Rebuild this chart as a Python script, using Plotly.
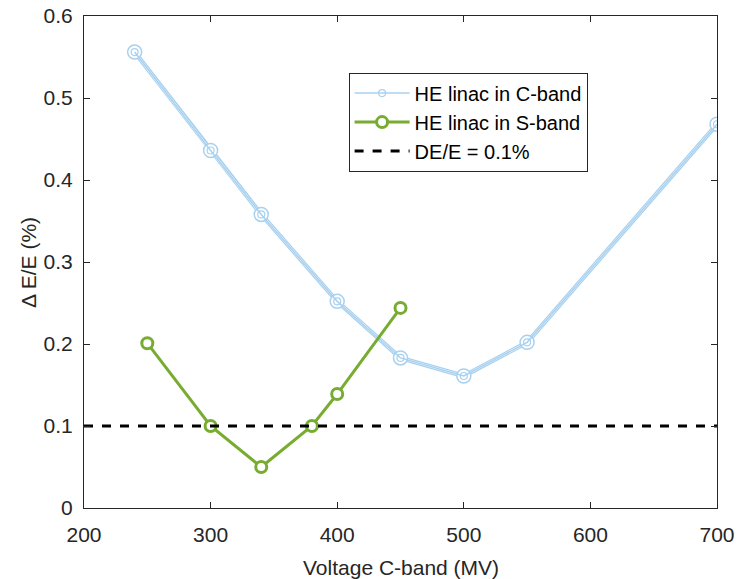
import plotly.graph_objects as go

# Data
c_voltage = [240, 300, 340, 400, 450, 500, 550, 700]
c_dee = [0.556, 0.436, 0.358, 0.252, 0.183, 0.161, 0.202, 0.468]
s_voltage = [250, 300, 340, 380, 400, 450]
s_dee = [0.201, 0.100, 0.050, 0.100, 0.139, 0.244]
ref_x = [200, 700]
ref_y = [0.1, 0.1]
x_ticks = [200, 300, 400, 500, 600, 700]
y_ticks = [0, 0.1, 0.2, 0.3, 0.4, 0.5, 0.6]
y_ticklabels = ["0", "0.1", "0.2", "0.3", "0.4", "0.5", "0.6"]

c_name = "HE linac in C-band"
s_name = "HE linac in S-band"
ref_name = "DE/E = 0.1%"
x_title = "Voltage C-band (MV)"
y_title = "Δ E/E (%)"

light_blue = "#a8d1ef"
green = "#77ac30"
axis_col = "#262626"
font_fam = "Liberation Sans, Arial, sans-serif"

fig = go.Figure()

# C-band: double-line look (thick light blue with white core)
fig.add_trace(go.Scatter(x=c_voltage, y=c_dee, mode="lines",
                         line=dict(color=light_blue, width=4.5),
                         showlegend=False, hoverinfo="skip"))
fig.add_trace(go.Scatter(x=c_voltage, y=c_dee, mode="lines",
                         line=dict(color="white", width=2),
                         showlegend=False, hoverinfo="skip"))
fig.add_trace(go.Scatter(x=c_voltage, y=c_dee, mode="markers",
                         marker=dict(symbol="circle", size=14, color="white",
                                     line=dict(color=light_blue, width=1.5)),
                         showlegend=False, hoverinfo="skip"))
fig.add_trace(go.Scatter(x=c_voltage, y=c_dee, mode="lines+markers", name=c_name,
                         line=dict(color=light_blue, width=1.5),
                         marker=dict(symbol="circle-open", size=7, color=light_blue,
                                     line=dict(width=1.2))))

fig.add_trace(go.Scatter(x=s_voltage, y=s_dee, mode="lines+markers", name=s_name,
                         line=dict(color=green, width=3),
                         marker=dict(symbol="circle", size=11, color="white",
                                     line=dict(color=green, width=3))))

fig.add_trace(go.Scatter(x=ref_x, y=ref_y, mode="lines", name=ref_name,
                         line=dict(color="black", width=3, dash="dash")))

axis_common = dict(showgrid=False, zeroline=False, showline=True, linecolor=axis_col,
                   linewidth=1, mirror="ticks", ticks="inside", ticklen=6,
                   tickcolor=axis_col, tickwidth=1, automargin=False,
                   tickfont=dict(family=font_fam, size=21, color=axis_col))

fig.update_xaxes(range=[200, 700], tickvals=x_ticks, ticklabelstandoff=8, **axis_common)
fig.update_yaxes(range=[0, 0.6], tickvals=y_ticks, ticktext=y_ticklabels,
                 ticklabelstandoff=6, **axis_common)

fig.add_annotation(text=x_title, xref="paper", yref="paper", x=0.5, y=-0.12,
                   xanchor="center", yanchor="middle", showarrow=False,
                   font=dict(family=font_fam, size=21, color=axis_col))
fig.add_annotation(text=y_title, xref="paper", yref="paper", x=-0.0885, y=0.5,
                   xanchor="center", yanchor="middle", showarrow=False, textangle=-90,
                   font=dict(family=font_fam, size=21, color=axis_col))

fig.update_layout(
    width=738, height=579,
    margin=dict(l=84, r=21, t=16, b=71),
    paper_bgcolor="white", plot_bgcolor="white",
    font=dict(family=font_fam, color=axis_col),
    legend=dict(x=0.418, y=0.885, xanchor="left", yanchor="top",
                bgcolor="white", bordercolor=axis_col, borderwidth=1,
                font=dict(family=font_fam, size=20, color="black"),
                itemwidth=55, tracegroupgap=0),
    showlegend=True,
)

fig.write_html("out.html")
